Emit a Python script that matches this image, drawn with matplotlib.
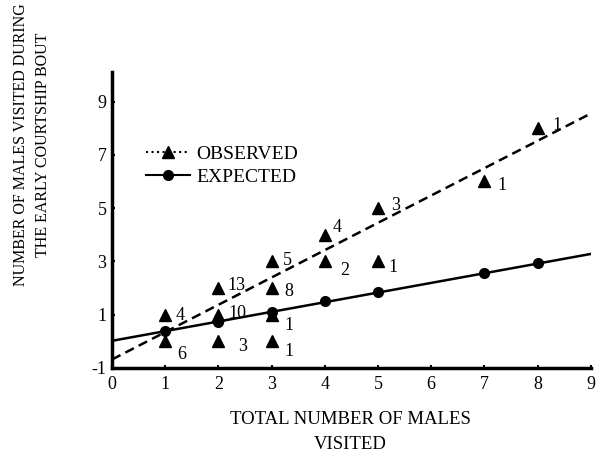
import numpy as np
import matplotlib.pyplot as plt
from matplotlib.lines import Line2D

#Daten
obs_x = [1, 1, 2, 2, 2, 3, 3, 3, 3, 4, 4, 5, 5, 7, 8]
obs_y = [1, 0, 2, 1, 0, 3, 2, 1, 0, 4, 3, 5, 3, 6, 8]
obs_n = ['4', '6', '13', '10', '3', '5', '8', '1', '1', '4', '2', '3', '1', '1', '1']
# Position der Zahlen neben den Dreiecken
lab_x = [1.28, 1.31, 2.34, 2.35, 2.45, 3.30, 3.32, 3.32, 3.32, 4.24, 4.37, 5.34, 5.29, 7.33, 8.36]
lab_y = [0.98, -0.51, 2.10, 1.06, -0.20, 3.04, 1.86, 0.60, -0.39, 4.29, 2.67, 5.10, 2.78, 5.85, 8.10]

exp_x = [1, 2, 3, 4, 5, 7, 8]
exp_y = [0.39, 0.73, 1.11, 1.52, 1.85, 2.58, 2.94]

# Regressionsgeraden (Endpunkte aus der Abbildung)
fit_x = [0, 9]
obs_fit_y = [-0.68, 8.55]
exp_fit_y = [0.02, 3.28]

xticks = [0, 1, 2, 3, 4, 5, 6, 7, 8, 9]
yticks = [-1, 1, 3, 5, 7, 9]

#%%

plt.rcParams['font.family'] = ['Liberation Serif', 'DejaVu Serif']
plt.rcParams['axes.unicode_minus'] = False

fig = plt.figure(figsize=(5.97, 4.68), dpi=100)
ax = fig.add_axes([0.1876, 0.2137, 0.802, 0.632])

ax.plot(fit_x, obs_fit_y, color='black', lw=1.8, dashes=(3.8, 2.2))
ax.plot(fit_x, exp_fit_y, color='black', lw=1.8)
ax.plot(obs_x, obs_y, ls='none', marker='^', ms=9, color='black')
ax.plot(exp_x, exp_y, ls='none', marker='o', ms=7, color='black')

for x, y, n in zip(lab_x, lab_y, obs_n):
    ax.text(x, y, n, fontsize=13, ha='center', va='center')

ax.set_xlim(0, 9)
ax.set_ylim(-1, 10.1)
ax.set_xticks(xticks)
ax.set_yticks(yticks)
ax.tick_params(direction='in', length=2, width=1.5, labelsize=13)
ax.tick_params(axis='x', pad=6)
ax.tick_params(axis='y', pad=4)
for s in ['top', 'right']:
    ax.spines[s].set_visible(False)
for s in ['left', 'bottom']:
    ax.spines[s].set_linewidth(2.5)

handles = [Line2D([], [], color='black', ls=':', lw=1.5, marker='^', ms=9),
           Line2D([], [], color='black', ls='-', lw=1.5, marker='o', ms=7)]
ax.legend(handles, ['OBSERVED', 'EXPECTED'], loc='upper left', bbox_to_anchor=(0.05, 0.785),
          frameon=False, fontsize=14, handlelength=2.3, handletextpad=0.3,
          labelspacing=0.25, borderpad=0)

fig.text(0.587, 0.077, 'TOTAL NUMBER OF MALES\nVISITED', ha='center', va='center',
         fontsize=13.5, linespacing=1.6)
fig.text(0.054, 0.69, 'NUMBER OF MALES VISITED DURING\nTHE EARLY COURTSHIP BOUT',
         ha='center', va='center', rotation=90, fontsize=11.5, linespacing=1.5)

fig.savefig('out.png', dpi=100)
